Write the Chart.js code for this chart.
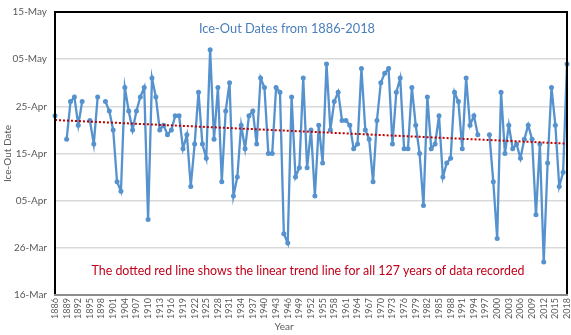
<!DOCTYPE html>
<html>
<head>
<meta charset="utf-8">
<script src="https://cdn.jsdelivr.net/npm/chart.js@4/dist/chart.umd.min.js"></script>
<style>
  html, body { margin: 0; padding: 0; background: #ffffff; }
  canvas { display: block; }
</style>
</head>
<body>
<canvas id="c" width="571" height="335"></canvas>
<script>
// Categories: years
const years = [
  1886,1887,1888,1889,1890,1891,1892,1893,1894,1895,
  1896,1897,1898,1899,1900,1901,1902,1903,1904,1905,
  1906,1907,1908,1909,1910,1911,1912,1913,1914,1915,
  1916,1917,1918,1919,1920,1921,1922,1923,1924,1925,
  1926,1927,1928,1929,1930,1931,1932,1933,1934,1935,
  1936,1937,1938,1939,1940,1941,1942,1943,1944,1945,
  1946,1947,1948,1949,1950,1951,1952,1953,1954,1955,
  1956,1957,1958,1959,1960,1961,1962,1963,1964,1965,
  1966,1967,1968,1969,1970,1971,1972,1973,1974,1975,
  1976,1977,1978,1979,1980,1981,1982,1983,1984,1985,
  1986,1987,1988,1989,1990,1991,1992,1993,1994,1995,
  1996,1997,1998,1999,2000,2001,2002,2003,2004,2005,
  2006,2007,2008,2009,2010,2011,2012,2013,2014,2015,
  2016,2017,2018
];

// Ice-out date as day of year (non-leap; 75 = 16-Mar), null = no record
const iceOutDay = [
  113,null,null,108,116,117,111,116,null,112,
  107,117,null,116,114,110,99,97,119,114,
  110,114,117,119,91,121,117,110,111,109,
  110,113,113,106,109,98,107,118,107,104,
  127,108,119,99,114,120,96,100,111,106,
  113,114,107,121,119,105,105,119,118,88,
  86,117,100,102,121,102,110,96,111,103,
  124,110,116,118,112,112,111,106,107,123,
  110,108,99,112,120,122,123,107,118,121,
  106,106,119,111,105,94,117,106,107,113,
  100,103,104,118,116,106,121,111,113,109,
  null,null,109,99,87,118,105,111,106,107,
  104,108,111,108,92,107,82,103,119,111,
  98,101,124
];

// Linear trend line end values (day of year): [1886, 2018]
const trendEnds = [112.1, 107.1];

// Y tick range (day of year): 16-Mar .. 15-May every 10 days
const yMin = 75, yMax = 135, yStep = 10;

const titleText = 'Ice-Out Dates from 1886-2018';
const noteText = 'The dotted red line shows the linear trend line for all 127 years of data recorded';
const yTitle = 'Ice-Out Date';
const xTitle = 'Year';

const monthNames = ['Jan','Feb','Mar','Apr','May','Jun','Jul','Aug','Sep','Oct','Nov','Dec'];
const monthStart = [0,31,59,90,120,151,181,212,243,273,304,334];
function fmtDay(doy) {
  let m = 11;
  while (m > 0 && doy <= monthStart[m]) m--;
  const d = Math.round(doy - monthStart[m]);
  return (d < 10 ? '0' + d : '' + d) + '-' + monthNames[m];
}

const trendData = years.map((y, i) => i === 0 ? trendEnds[0] : (i === years.length - 1 ? trendEnds[1] : null));

const FONT = 'Lato, "Open Sans", sans-serif';

const overlay = {
  id: 'overlay',
  beforeDatasetsDraw(chart) {
    const ctx = chart.ctx;
    ctx.save();
    ctx.textBaseline = 'middle';
    ctx.textAlign = 'center';
    ctx.fillStyle = '#4A7EBB';
    ctx.font = '12.8px ' + FONT;
    ctx.fillText(titleText, 287, 29);
    ctx.fillStyle = '#C0001A';
    ctx.font = '12.4px ' + FONT;
    ctx.fillText(noteText, 308, 271);
    ctx.fillStyle = '#595959';
    ctx.font = '10px ' + FONT;
    ctx.fillText(xTitle, 284, 327);
    ctx.restore();
  },
  afterDraw(chart) {
    const ctx = chart.ctx, a = chart.chartArea;
    ctx.save();
    ctx.lineWidth = 2;
    ctx.strokeStyle = '#000000';
    ctx.beginPath();
    ctx.moveTo(a.left, a.bottom);
    ctx.lineTo(a.left, a.top);
    ctx.lineTo(a.right, a.top);
    ctx.lineTo(a.right, a.bottom);
    ctx.stroke();
    ctx.strokeStyle = '#8c8c8c';
    ctx.beginPath();
    ctx.moveTo(a.left - 1, a.bottom);
    ctx.lineTo(a.right + 1, a.bottom);
    ctx.stroke();
    ctx.restore();
  }
};

new Chart(document.getElementById('c'), {
  type: 'line',
  data: {
    labels: years.map(String),
    datasets: [
      {
        label: 'Ice-Out',
        data: iceOutDay,
        borderColor: '#5592CE',
        backgroundColor: '#5592CE',
        borderWidth: 2.3,
        pointRadius: 2.5,
        pointBorderWidth: 0,
        pointBackgroundColor: '#5592CE',
        tension: 0,
        spanGaps: false,
        order: 2
      },
      {
        label: 'Trend',
        data: trendData,
        borderColor: '#C00000',
        borderWidth: 2,
        borderDash: [2, 2],
        pointRadius: 0,
        spanGaps: true,
        order: 1
      }
    ]
  },
  options: {
    responsive: false,
    animation: false,
    devicePixelRatio: 1,
    layout: { padding: { top: 12, right: 1, left: 0, bottom: 0 } },
    plugins: { legend: { display: false }, tooltip: { enabled: false }, title: { display: false } },
    scales: {
      x: {
        type: 'category',
        offset: false,
        grid: { display: false, drawTicks: false },
        border: { display: false },
        ticks: {
          autoSkip: false,
          maxRotation: 90,
          minRotation: 90,
          padding: 3,
          color: '#595959',
          font: { family: FONT, size: 9 },
          callback: function(v, i) { return i % 3 === 0 ? years[i] : ''; }
        },
        title: { display: false },
        afterFit(scale) { scale.height = 40; scale.paddingLeft = 0; scale.paddingRight = 0; }
      },
      y: {
        min: yMin,
        max: yMax,
        grid: { color: '#d9d9d9', lineWidth: 1.5, drawTicks: false },
        border: { display: false },
        ticks: {
          stepSize: yStep,
          padding: 8,
          color: '#595959',
          font: { family: FONT, size: 10 },
          callback: function(v) { return fmtDay(v); }
        },
        title: { display: true, text: yTitle, color: '#595959', font: { family: FONT, size: 10 }, padding: { top: 2, bottom: 2 } },
        afterFit(scale) { scale.width = 55; scale.paddingTop = 0; scale.paddingBottom = 0; }
      }
    }
  },
  plugins: [overlay]
});
</script>
</body>
</html>
